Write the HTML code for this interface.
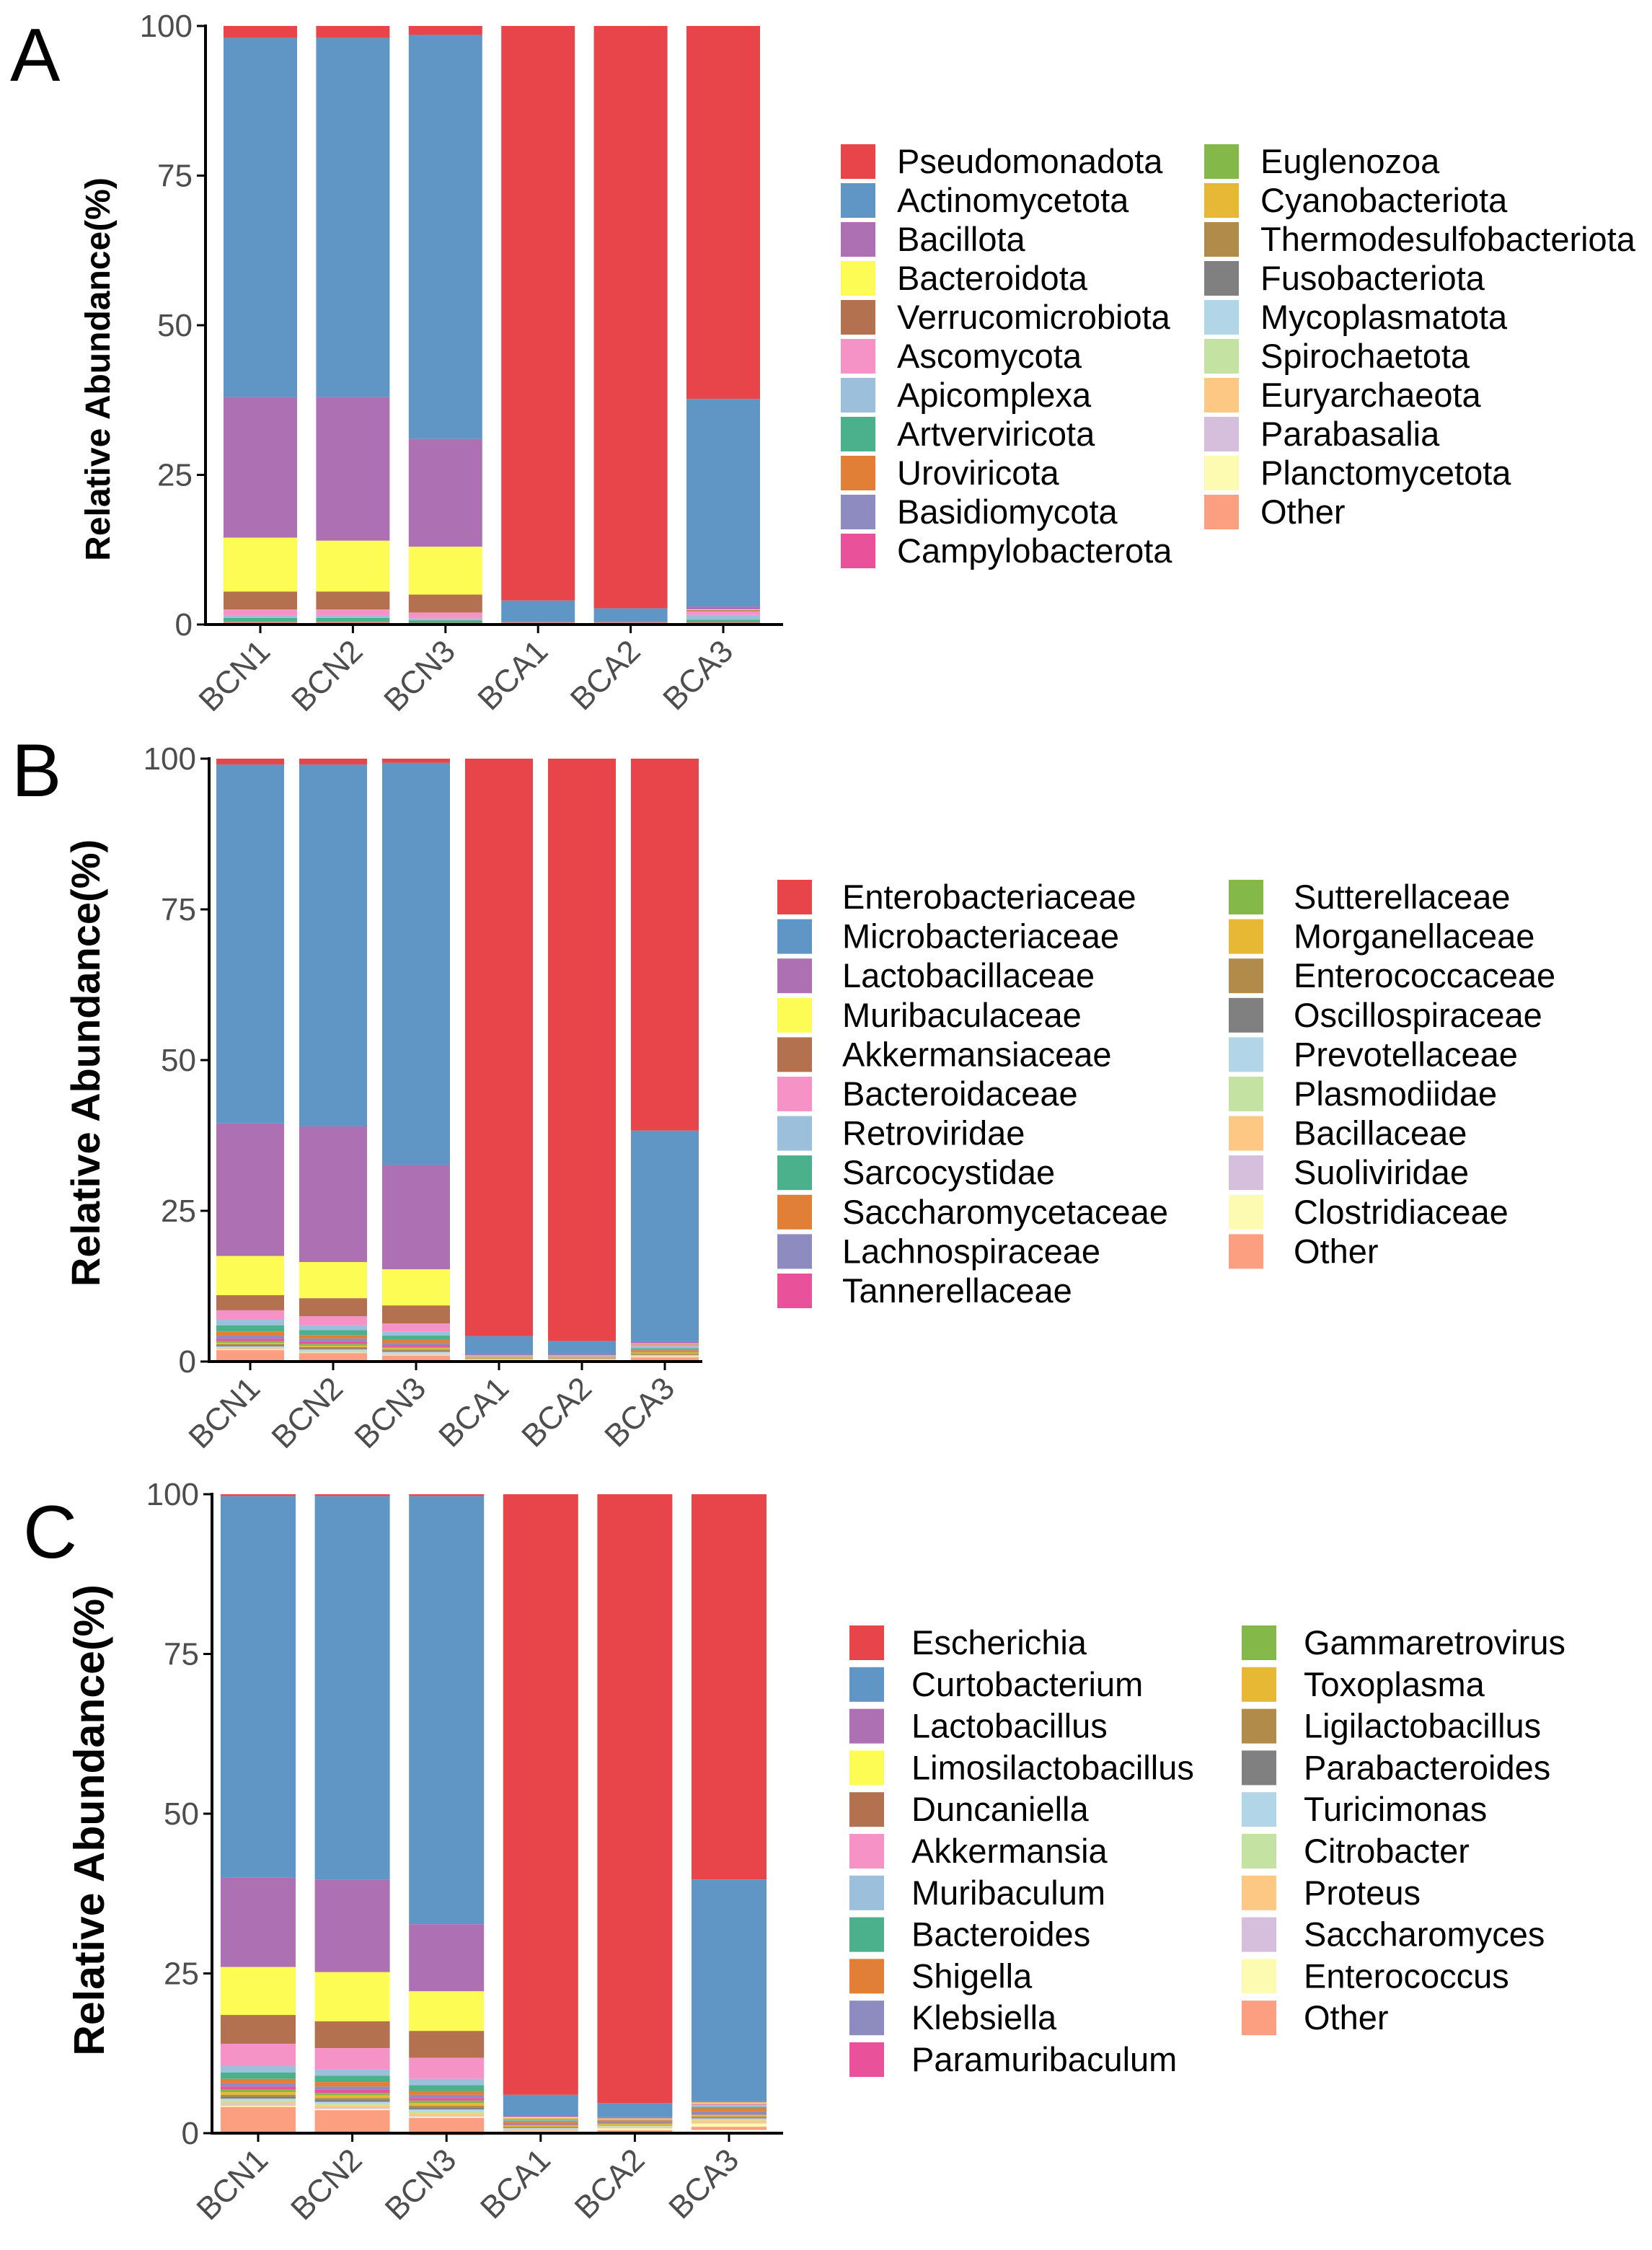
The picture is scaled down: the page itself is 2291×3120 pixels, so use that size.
<!DOCTYPE html>
<html><head><meta charset="utf-8"><style>
html,body{margin:0;padding:0;background:#fff;}
svg{display:block;font-family:"Liberation Sans",Arial,sans-serif;}
</style></head><body>
<svg id="fig" width="2291" height="3120" viewBox="0 0 2291 3120" xmlns="http://www.w3.org/2000/svg"></svg>
<script>
const samples = ["BCN1","BCN2","BCN3","BCA1","BCA2","BCA3"];
const yTicks = [0,25,50,75,100];
const colors = ["#e8454b","#6096c6","#ad70b2","#fdfc54","#b4714f","#f592c6","#9cc0dc","#4bb08c","#e07f35","#8d8bc0","#e9519b","#84b94a","#e7b833","#b08b4a","#808080","#b3d5e8","#c4e3a2","#fdc784","#d5bfdd","#fdfbb1","#fc9f81"];

const taxaA = ["Pseudomonadota","Actinomycetota","Bacillota","Bacteroidota","Verrucomicrobiota","Ascomycota","Apicomplexa","Artverviricota","Uroviricota","Basidiomycota","Campylobacterota","Euglenozoa","Cyanobacteriota","Thermodesulfobacteriota","Fusobacteriota","Mycoplasmatota","Spirochaetota","Euryarchaeota","Parabasalia","Planctomycetota","Other"];
const valuesA = [
 [2,2,1.5,96,97.3,62.3],
 [60,60,67.5,3.5,2.2,34.7],
 [23.5,24,18,0.2,0.2,0.5],
 [9,8.5,8,0.05,0.05,0.1],
 [3,3,3,0.02,0.02,0.2],
 [1,1,1,0.05,0.05,0.6],
 [0.4,0.4,0.3,0.03,0.03,0.8],
 [0.6,0.6,0.4,0.03,0.03,0.4],
 [0.1,0.1,0.05,0.02,0.02,0.1],
 [0.05,0.05,0.05,0.01,0.01,0.05],
 [0.05,0.05,0.05,0.01,0.01,0.05],
 [0.02,0.02,0.02,0.01,0.01,0.02],
 [0.02,0.02,0.02,0.01,0.01,0.02],
 [0.02,0.02,0.02,0.01,0.01,0.02],
 [0.02,0.02,0.02,0.01,0.01,0.02],
 [0.02,0.02,0.02,0.01,0.01,0.02],
 [0.02,0.02,0.02,0.01,0.01,0.02],
 [0.02,0.02,0.02,0.01,0.01,0.02],
 [0.02,0.02,0.02,0.01,0.01,0.02],
 [0.02,0.02,0.02,0.01,0.01,0.02],
 [0.1,0.1,0.1,0.02,0.02,0.1]
];

const taxaB = ["Enterobacteriaceae","Microbacteriaceae","Lactobacillaceae","Muribaculaceae","Akkermansiaceae","Bacteroidaceae","Retroviridae","Sarcocystidae","Saccharomycetaceae","Lachnospiraceae","Tannerellaceae","Sutterellaceae","Morganellaceae","Enterococcaceae","Oscillospiraceae","Prevotellaceae","Plasmodiidae","Bacillaceae","Suoliviridae","Clostridiaceae","Other"];
const valuesB = [
 [1,1,0.7,95.8,96.6,61.7],
 [59.5,60,66.7,3,2.2,35],
 [22,22.5,17.3,0.2,0.2,0.3],
 [6.5,6,6,0.05,0.05,0.1],
 [2.5,3,3,0.02,0.02,0.1],
 [1.5,1.5,1.3,0.05,0.05,0.3],
 [1,0.8,0.7,0.02,0.02,0.3],
 [1,0.8,0.7,0.02,0.02,0.2],
 [0.7,0.6,0.5,0.05,0.05,0.2],
 [0.5,0.5,0.4,0.02,0.02,0.1],
 [0.4,0.4,0.3,0.02,0.02,0.1],
 [0.3,0.3,0.2,0.02,0.02,0.1],
 [0.2,0.2,0.2,0.2,0.15,0.2],
 [0.2,0.2,0.2,0.1,0.1,0.2],
 [0.2,0.2,0.2,0.02,0.02,0.05],
 [0.2,0.2,0.2,0.02,0.02,0.05],
 [0.1,0.1,0.1,0.02,0.02,0.05],
 [0.1,0.1,0.1,0.05,0.05,0.1],
 [0.1,0.1,0.1,0.02,0.02,0.05],
 [0.1,0.1,0.1,0.05,0.05,0.1],
 [1.9,1.4,1,0.2,0.2,0.9]
];

const taxaC = ["Escherichia","Curtobacterium","Lactobacillus","Limosilactobacillus","Duncaniella","Akkermansia","Muribaculum","Bacteroides","Shigella","Klebsiella","Paramuribaculum","Gammaretrovirus","Toxoplasma","Ligilactobacillus","Parabacteroides","Turicimonas","Citrobacter","Proteus","Saccharomyces","Enterococcus","Other"];
const valuesC = [
 [0.3,0.3,0.3,94,95.3,60.3],
 [59.7,60,67,3.3,2.2,34.7],
 [14,14.5,10.5,0.2,0.2,0.2],
 [7.5,7.7,6.2,0.2,0.1,0.2],
 [4.5,4.2,4.2,0.1,0.05,0.1],
 [3.5,3.3,3.3,0.1,0.05,0.2],
 [1,1,1,0.1,0.05,0.2],
 [1,1,0.9,0.1,0.05,0.2],
 [0.7,0.7,0.6,0.3,0.3,0.5],
 [0.5,0.5,0.5,0.2,0.2,0.4],
 [0.5,0.5,0.4,0.1,0.05,0.1],
 [0.4,0.4,0.4,0.1,0.05,0.1],
 [0.4,0.4,0.4,0.2,0.15,0.2],
 [0.3,0.3,0.3,0.1,0.05,0.2],
 [0.3,0.3,0.3,0.1,0.05,0.1],
 [0.3,0.3,0.3,0.1,0.05,0.1],
 [0.3,0.3,0.3,0.1,0.1,0.2],
 [0.3,0.3,0.3,0.2,0.2,0.4],
 [0.2,0.2,0.2,0.1,0.05,0.1],
 [0.2,0.2,0.2,0.3,0.3,0.5],
 [4,3.6,2.7,0.1,0.5,0.5]
];

const NS="http://www.w3.org/2000/svg";
const svg=document.getElementById('fig');
function mk(tag,attrs,parent){const e=document.createElementNS(NS,tag);for(const k in attrs)e.setAttribute(k,attrs[k]);(parent||svg).appendChild(e);return e;}

function panel(cfg, taxa, values){
  const g=mk('g',{});
  
  
  const y=v=>cfg.y0-(v/100)*(cfg.y0-cfg.y100);
  const x=i=>cfg.c0+i*cfg.pitch;
  samples.forEach((s,i)=>{
    let top=100;
    taxa.forEach((t,k)=>{
      const v=values[k][i];
      const r=mk('rect',{x:x(i)-cfg.bw/2,y:y(top),width:cfg.bw,height:Math.max(0,y(top-v)-y(top)),fill:colors[k]},g);
      
      
      top-=v;
    });
  });
  const ya=mk('line',{x1:cfg.ax,y1:cfg.y100-2,x2:cfg.ax,y2:cfg.y0,stroke:'#000','stroke-width':4},g);
  
  
  const xa=mk('line',{x1:cfg.ax-2,y1:cfg.y0,x2:cfg.xend,y2:cfg.y0,stroke:'#000','stroke-width':4},g);
  
  
  yTicks.forEach(t=>{
    mk('line',{x1:cfg.ax-12,y1:y(t),x2:cfg.ax,y2:y(t),stroke:'#000','stroke-width':3},g);
    const tx=mk('text',{x:cfg.ax-18,y:y(t)+15,'text-anchor':'end','font-size':44,fill:'#4d4d4d'},g);
    tx.textContent=t;
    
    
  });
  samples.forEach((s,i)=>{
    mk('line',{x1:x(i),y1:cfg.y0,x2:x(i),y2:cfg.y0+12,stroke:'#000','stroke-width':3},g);
    const tx=mk('text',{x:0,y:0,'text-anchor':'end','font-size':44,fill:'#4d4d4d',transform:`translate(${x(i)+16},${cfg.y0+40}) rotate(-45)`},g);
    tx.textContent=s;
    
    
  });
  const yt=mk('text',{x:0,y:0,'text-anchor':'middle','font-size':cfg.tfs,'font-weight':'bold',fill:'#000',transform:`translate(${cfg.titleX},${cfg.titleY}) rotate(-90)`},g);
  yt.textContent='Relative Abundance(%)';
  
  
  const pl=mk('text',{x:cfg.labX,y:cfg.labY,'font-size':104,fill:'#000'},g);
  pl.textContent=cfg.id;
  
  
  taxa.forEach((t,k)=>{
    const col=k<11?0:1, row=k<11?k:k-11;
    const sx=col?cfg.lx2:cfg.lx1, cy=cfg.ly+row*cfg.lp;
    const lg=mk('g',{},g);
    
    
    mk('rect',{x:sx,y:cy-24,width:48,height:48,fill:colors[k]},lg);
    const tx=mk('text',{x:sx+cfg.toff,y:cy+16,'font-size':47,fill:'#000'},lg);
    tx.textContent=t;
  });
}
panel({id:'A',ax:285,xend:1086,y0:866,y100:36,c0:361,pitch:128.4,bw:102,titleX:152,titleY:512,tfs:48,labX:14,labY:112,lx1:1166,lx2:1670,toff:78,ly:224,lp:54},taxaA,valuesA);
panel({id:'B',ax:290,xend:974,y0:1888,y100:1052,c0:347,pitch:115,bw:94,titleX:138,titleY:1474,tfs:56,labX:16,labY:1104,lx1:1078,lx2:1704,toff:90,ly:1244,lp:54.6},taxaB,valuesB);
panel({id:'C',ax:294,xend:1086,y0:2958,y100:2072,c0:358,pitch:130.6,bw:104,titleX:144,titleY:2524,tfs:59,labX:32,labY:2160,lx1:1178,lx2:1722,toff:86,ly:2278,lp:57.8},taxaC,valuesC);
</script>
</body></html>
